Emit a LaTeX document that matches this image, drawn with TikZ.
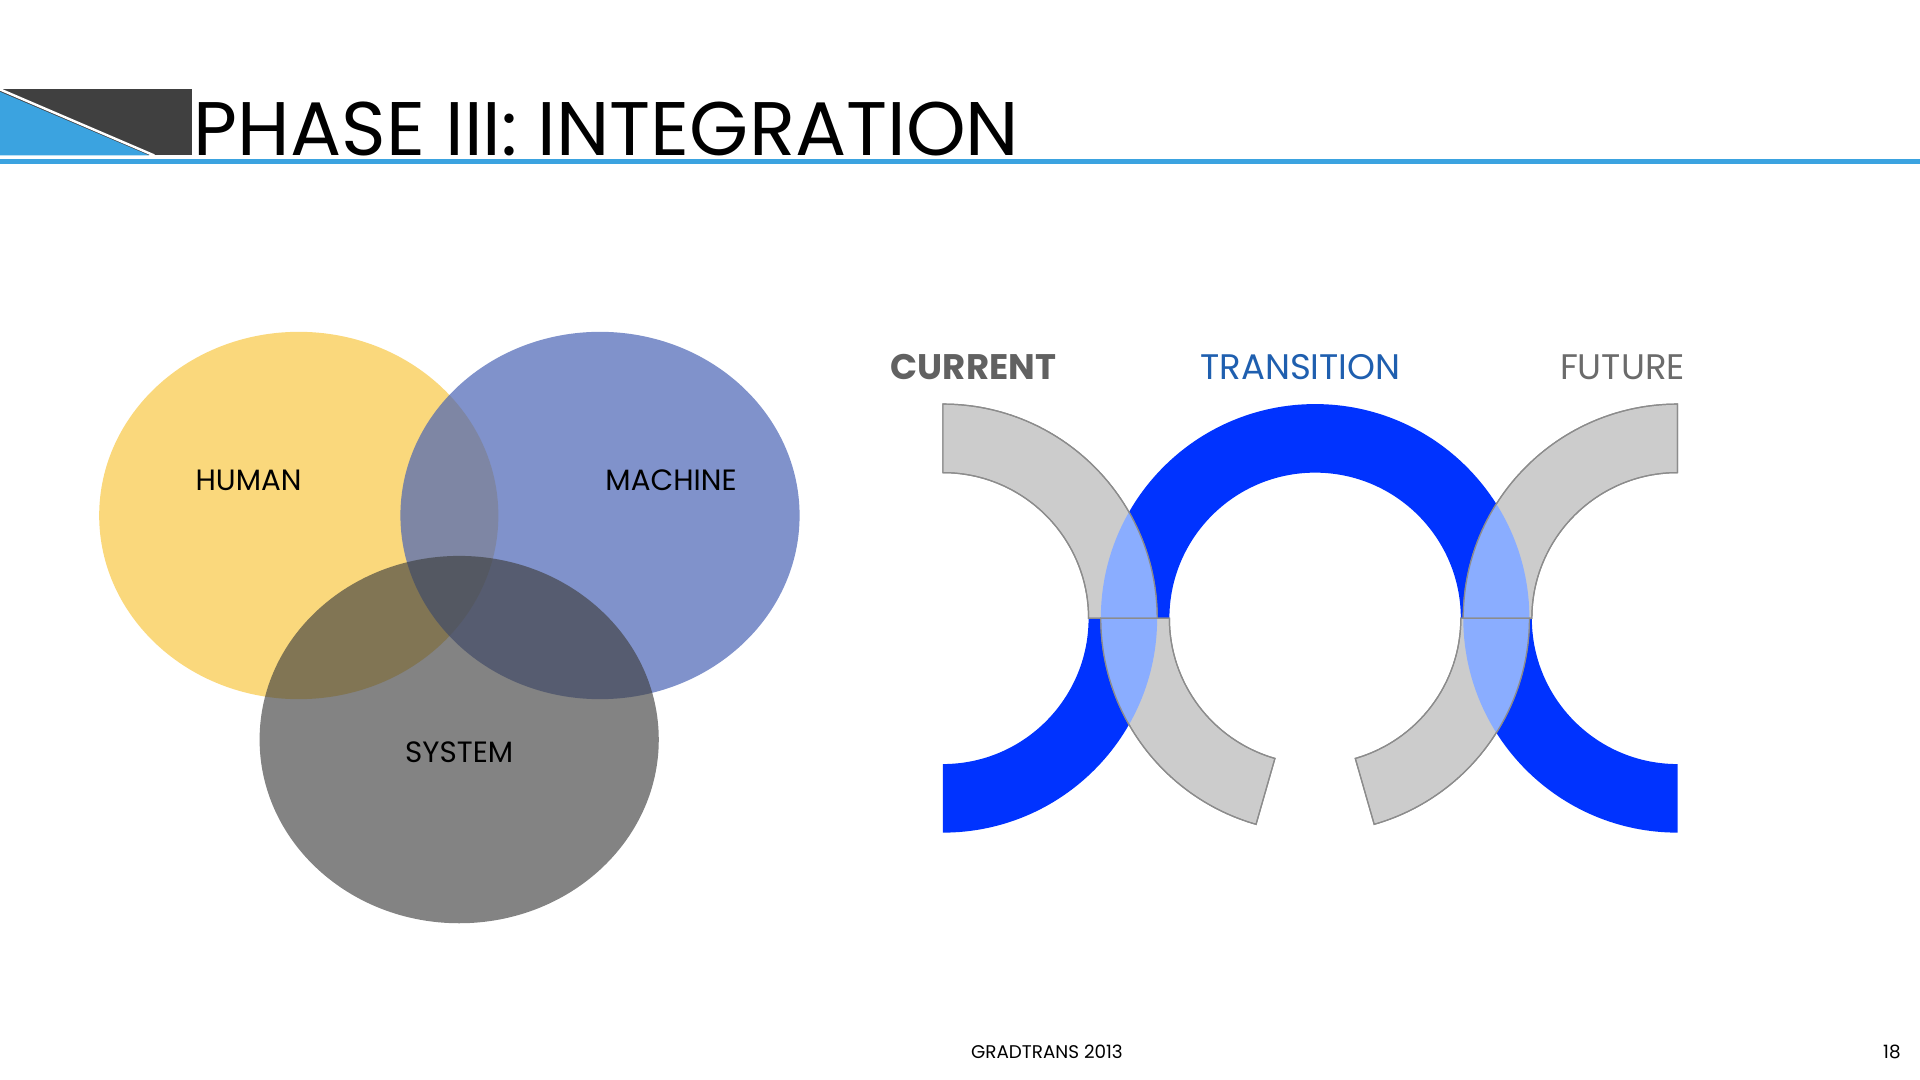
\documentclass[tikz,border=0pt]{standalone}
\usepackage{fontspec}
\usetikzlibrary{calc}
\setmainfont{Poppins}
\begin{document}
\begin{tikzpicture}[x=0.5pt,y=0.5pt,
  lbl/.style={inner sep=0,font=\fontsize{12}{14}\selectfont},
  hdr/.style={inner sep=0,font=\fontsize{14.5}{17}\selectfont},
  grayp/.style={fill=gray!40!white,draw=gray!90,line width=0.5pt},
  bluep/.style={fill=blueA},
  ]
\definecolor{blueA}{HTML}{0033FF}
\definecolor{lightB}{HTML}{8AADFF}
\definecolor{titleblue}{HTML}{3BA3E0}
\useasboundingbox (0,0) rectangle (1568,882);
% header
\fill[black!75] (0,809) rectangle (157,755);
\fill[titleblue] (0,807) -- (122,755) -- (0,755) -- cycle;
\draw[white,line width=1pt] (0,809) -- (126,755);
\fill[titleblue] (0,748) rectangle (1568,752);
\node[anchor=base west,inner sep=0,font=\fontsize{31}{36}\selectfont] (title) at (158,755) {PHASE III: INTEGRATION};
% venn
\fill[fill={rgb,255:red,249;green,212;blue,110},opacity=0.9] (244,461) ellipse [x radius=163,y radius=150];
\fill[fill={rgb,255:red,74;green,100;blue,181},opacity=0.7] (490,461) ellipse [x radius=163,y radius=150];
\fill[fill=black!75,opacity=0.65] (375,278) ellipse [x radius=163,y radius=150];
\node[lbl] (human) at (203,490) {HUMAN};
\node[lbl] (machine) at (548,490) {MACHINE};
\node[lbl] (system) at (375,268) {SYSTEM};
% rings
\def\ann#1#2#3#4{($(#1,377)+(#2:175)$) arc[start angle=#2,end angle=#3,radius=175] -- ($(#1,377)+(#3:119)$) arc[start angle=#3,end angle=#2,radius=119] -- cycle}
\def\ga{\ann{770}{90}{0}{}}
\def\gb{\ann{1074}{180}{254}{}}
\def\gc{\ann{1074}{286}{360}{}}
\def\gd{\ann{1370}{90}{180}{}}
\def\ba{\ann{770}{0}{-90}{}}
\def\bb{\ann{1074}{180}{0}{}}
\def\bc{\ann{1370}{180}{270}{}}
\fill[blueA] \ba; \fill[blueA] \bb; \fill[blueA] \bc;
\path[grayp] \ga; \path[grayp] \gb; \path[grayp] \gc; \path[grayp] \gd;
\foreach \g in {\ga,\gb,\gc,\gd}{
  \begin{scope}\clip \g;
   \fill[lightB] \ba; \fill[lightB] \bb; \fill[lightB] \bc;
  \end{scope}}
\foreach \g in {\ga,\gb,\gc,\gd}{\draw[gray!90,line width=0.5pt] \g;}
\node[hdr,font=\fontsize{14.5}{17}\selectfont\bfseries,text=black!62] (cur) at (795,582) {CURRENT};
\node[hdr,text={rgb,255:red,31;green,95;blue,175}] (tra) at (1062,582) {TRANSITION};
\node[hdr,text=black!58] (fut) at (1325,582) {FUTURE};
\node[inner sep=0,font=\fontsize{7.5}{9}\selectfont] (foot) at (855,23) {GRADTRANS 2013};
\node[inner sep=0,font=\fontsize{7.5}{9}\selectfont] (pg) at (1545,23) {18};
\end{tikzpicture}
\end{document}
